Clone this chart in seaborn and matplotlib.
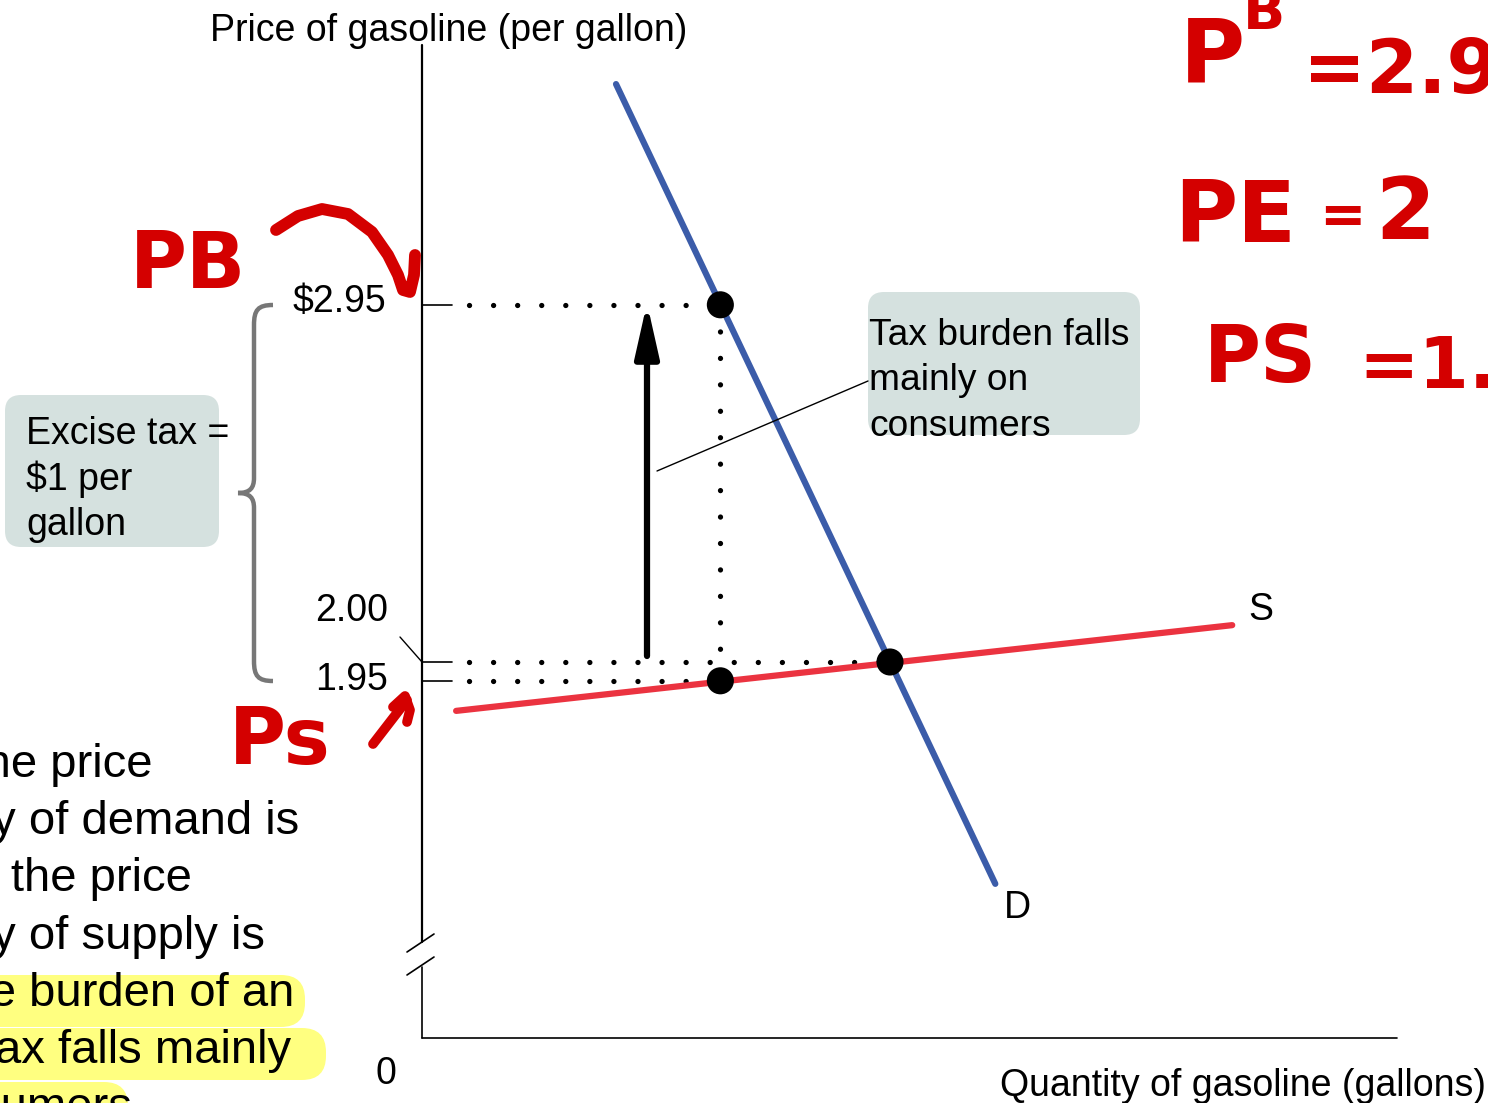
import numpy as np
import pandas as pd
import matplotlib
matplotlib.use("Agg")
import matplotlib.pyplot as plt
from matplotlib.patches import FancyBboxPatch, PathPatch
from matplotlib.path import Path
import seaborn as sns

# ---- data (quantity in axis-length units, price in $/gallon) ----
demand_q = [0.199, 0.588]
demand_p = [3.537, 1.410]
supply_q = [0.035, 0.831]
supply_p = [1.870, 2.098]
price_buyers = 2.95
price_equil = 2.00
price_sellers = 1.95
q_taxed = 0.306
q_equil = 0.480
tick_prices = [2.95, 2.00, 1.95]
tick_labels = ["$2.95", "2.00", "1.95"]
side_text = ["When the price", "elasticity of demand is", "low and the price",
             "elasticity of supply is", "high, the burden of an",
             "excise tax falls mainly", "on consumers"]

sns.set_theme(style="white")
plt.rcParams["font.family"] = ["Liberation Sans", "DejaVu Sans"]
plt.rcParams["text.color"] = "black"

W, H = 1488, 1103
fig = plt.figure(figsize=(W / 100, H / 100), dpi=100)
ax = fig.add_axes([0, 0, 1, 1])

# pixel -> data helpers (axis origin at x=422, price 2.00 at y=662)
def qx(x):
    return (x - 422) / 975.0

def py(y):
    return 2.0 - (y - 662) / 376.0

def P(x, y):
    return qx(x), py(y)

def ty(y):
    # text centres sit a little high with va="center"
    return py(y + 3)

ax.set_xlim(qx(0), qx(W))
ax.set_ylim(py(H), py(0))
ax.axis("off")

black = "#000000"
blue = "#3b5ca9"
red = "#eb3340"
hand = "#d40000"
boxc = "#d5e1df"
FS = 27

# axes with break
ax.plot([0, 0], [py(942), py(45)], color=black, lw=1.6)
ax.plot([0, 0], [1.0, py(967)], color=black, lw=1.2)
ax.plot([0, 1.0], [1.0, 1.0], color=black, lw=1.2)
for dy in (0, 23):
    ax.plot([qx(407), qx(434)], [py(952 + dy), py(934 + dy)], color=black, lw=1.2)

# tick stubs and labels
for p in tick_prices:
    ax.plot([0, qx(452)], [p, p], color=black, lw=1.2)
ax.text(qx(386), ty(299), tick_labels[0], ha="right", va="center", fontsize=FS)
ax.text(qx(388), ty(608), tick_labels[1], ha="right", va="center", fontsize=FS)
ax.text(qx(388), ty(677), tick_labels[2], ha="right", va="center", fontsize=FS)
ax.plot([qx(400), 0], [py(637), price_equil], color=black, lw=1.0)
ax.text(qx(386), ty(1071), "0", ha="center", va="center", fontsize=FS)

# dotted guide lines
dot = dict(color=black, lw=3.8, linestyle=(0, (0.01, 4.55)), dash_capstyle="round")
ax.plot([qx(469), q_taxed], [price_buyers, price_buyers], **dot)
ax.plot([qx(469), q_equil], [price_equil, price_equil], **dot)
ax.plot([qx(469), q_taxed], [price_sellers, price_sellers], **dot)
ax.plot([q_taxed, q_taxed], [price_buyers, price_sellers], color=black, lw=3.8,
        linestyle=(0, (0.01, 5.0)), dash_capstyle="round")

# supply and demand
sns.lineplot(x=supply_q, y=supply_p, ax=ax, color=red, lw=4.5, sort=False)
sns.lineplot(x=demand_q, y=demand_p, ax=ax, color=blue, lw=4.5, sort=False)
pts = pd.DataFrame({"q": [q_taxed, q_taxed, q_equil],
                    "p": [price_buyers, price_sellers, price_equil]})
sns.scatterplot(data=pts, x="q", y="p", ax=ax, color=black, s=380, edgecolor="none", zorder=5)
ax.text(qx(1248), ty(607), "S", ha="left", va="center", fontsize=FS)
ax.text(qx(1004), ty(905), "D", ha="left", va="center", fontsize=FS)

# tax arrow
ax.annotate("", xy=(qx(647), py(303)), xytext=(qx(647), py(656)),
            arrowprops=dict(arrowstyle="-|>,head_length=1.6,head_width=0.36",
                            mutation_scale=20, lw=4.5, color=black, shrinkA=0, shrinkB=0))
ax.plot([qx(657), qx(868)], [py(471), py(381)], color=black, lw=1.0)

# callout boxes
def rbox(x0, y0, x1, y1, color, r=16, z=1):
    bx = FancyBboxPatch((qx(x0), py(y1)), qx(x1) - qx(x0), py(y0) - py(y1),
                        boxstyle="round,pad=0,rounding_size=%f" % (r / 975.0),
                        mutation_aspect=975.0 / 376.0, fc=color, ec="none", zorder=z)
    ax.add_patch(bx)

rbox(868, 292, 1140, 435, boxc)
for i, s in enumerate(["Tax burden falls", "mainly on", "consumers"]):
    ax.text(qx(869), ty(332 + 45.5 * i), s, ha="left", va="center", fontsize=26.7, zorder=3)

rbox(5, 395, 219, 547, boxc)
for i, s in enumerate(["Excise tax =", "$1 per", "gallon"]):
    ax.text(qx(26), ty(431 + 45.5 * i), s, ha="left", va="center", fontsize=FS, zorder=3)

# brace
verts = [P(273, 305), P(258, 305), P(254, 310), P(254, 325),
         P(254, 478), P(254, 488), P(250, 493), P(238, 493),
         P(250, 493), P(254, 498), P(254, 508),
         P(254, 661), P(254, 676), P(258, 681), P(273, 681)]
codes = [Path.MOVETO, Path.CURVE4, Path.CURVE4, Path.CURVE4,
         Path.LINETO, Path.CURVE4, Path.CURVE4, Path.CURVE4,
         Path.CURVE4, Path.CURVE4, Path.CURVE4,
         Path.LINETO, Path.CURVE4, Path.CURVE4, Path.CURVE4]
ax.add_patch(PathPatch(Path(verts, codes), fc="none", ec="#777777", lw=3.2))

# axis titles
ax.text(qx(449), ty(28), "Price of gasoline (per gallon)", ha="center", va="center", fontsize=FS)
ax.text(qx(1000), ty(1083), "Quantity of gasoline (gallons)", ha="left", va="center", fontsize=FS)

# side text (clipped by the page edge)
for x0, y0, x1, y1 in [(-60, 975, 305, 1027), (-60, 1028, 326, 1080), (-60, 1082, 128, 1135)]:
    rbox(x0, y0, x1, y1, "#ffff80", r=24, z=0)
for i, s in enumerate(side_text):
    ax.text(qx(-165), ty(762 + 57.2 * i), s, ha="left", va="center", fontsize=34, zorder=3)

# handwritten notes
hw = dict(color=hand, fontweight="bold", family=["DejaVu Sans"], va="center")
ax.text(qx(188), py(266), "PB", fontsize=56, ha="center", **hw)
ax.text(qx(280), py(742), "Ps", fontsize=56, ha="center", **hw)
ax.text(qx(1212), py(58), "P", fontsize=64, ha="center", **hw)
ax.text(qx(1264), py(14), "B", fontsize=40, ha="center", **hw)
ax.text(qx(1303), py(72), "=2.95", fontsize=54, ha="left", **hw)
ax.text(qx(1235), py(218), "PE", fontsize=62, ha="center", **hw)
ax.text(qx(1342), py(218), "=", fontsize=40, ha="center", **hw)
ax.text(qx(1405), py(215), "2", fontsize=62, ha="center", **hw)
ax.text(qx(1260), py(360), "PS", fontsize=56, ha="center", **hw)
ax.text(qx(1358), py(368), "=1.95", fontsize=52, ha="left", **hw)

curve = [(276, 230), (298, 216), (322, 209), (348, 214), (372, 232), (388, 255),
         (398, 275), (403, 290), (410, 292), (414, 275), (415, 255)]
ax.plot([qx(a) for a, b in curve], [py(b) for a, b in curve], color=hand, lw=8.5,
        solid_capstyle="round", solid_joinstyle="round")
ps_arrow = [(373, 744), (407, 700)]
ax.plot([qx(a) for a, b in ps_arrow], [py(b) for a, b in ps_arrow], color=hand, lw=7,
        solid_capstyle="round")
ps_head = [(393, 707), (405, 696), (410, 710), (407, 722)]
ax.plot([qx(a) for a, b in ps_head], [py(b) for a, b in ps_head], color=hand, lw=7,
        solid_capstyle="round", solid_joinstyle="round")

fig.savefig("out.png", dpi=100)
